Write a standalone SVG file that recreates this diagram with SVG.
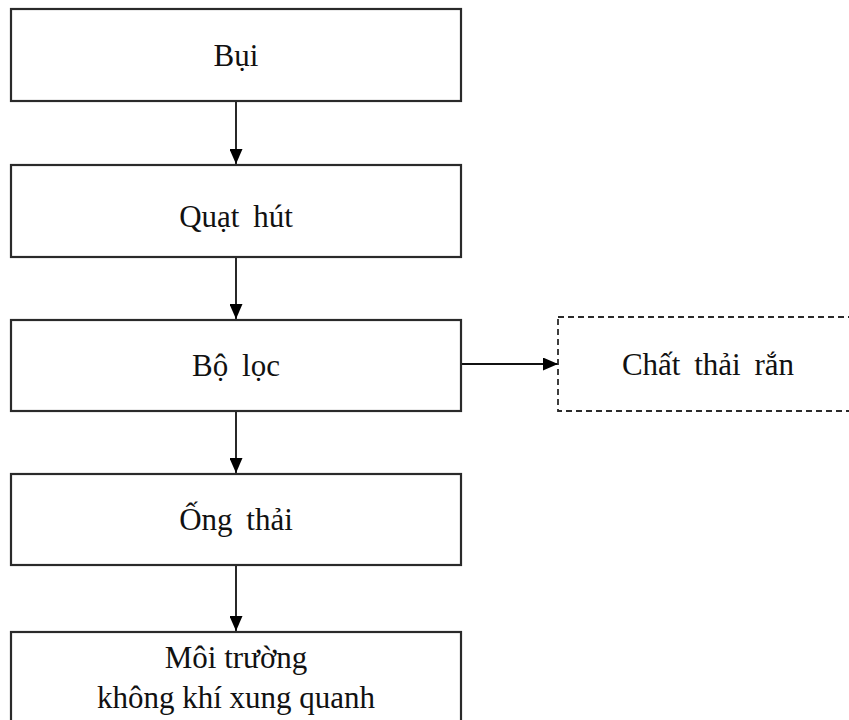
<svg xmlns="http://www.w3.org/2000/svg" width="849" height="720" viewBox="0 0 849 720">
  <defs>
    <marker id="arrow" viewBox="0 0 15 13" refX="15" refY="6.5" markerWidth="15" markerHeight="13" markerUnits="userSpaceOnUse" orient="auto">
      <path d="M0,0 L15,6.5 L0,13 Z" fill="#000"/>
    </marker>
    <style>
      .box { fill: #fff; stroke: #2a2a2a; stroke-width: 2.2; }
      .dashed { fill: #fff; stroke: #2a2a2a; stroke-width: 1.8; stroke-dasharray: 6 4; }
      .label { font-family: "Liberation Serif", "Times New Roman", serif; font-size: 31px; fill: #111; text-anchor: middle; word-spacing: 6px; }
      .tight { word-spacing: 0; }
      .link { stroke: #111; stroke-width: 1.8; fill: none; marker-end: url(#arrow); }
    </style>
  </defs>
  <rect width="849" height="720" fill="#fff"/>

  <g id="connectors">
    <line class="link" x1="236" y1="102" x2="236" y2="164"/>
    <line class="link" x1="236" y1="258" x2="236" y2="319"/>
    <line class="link" x1="236" y1="412" x2="236" y2="473"/>
    <line class="link" x1="236" y1="566" x2="236" y2="631"/>
    <line class="link" x1="462" y1="364" x2="558" y2="364"/>
  </g>

  <g id="bui">
    <rect class="box" x="11" y="9" width="450" height="92"/>
    <text class="label" x="236" y="66">Bụi</text>
  </g>

  <g id="quat-hut">
    <rect class="box" x="11" y="165" width="450" height="92"/>
    <text class="label" x="236" y="227">Quạt hút</text>
  </g>

  <g id="bo-loc">
    <rect class="box" x="11" y="320" width="450" height="91"/>
    <text class="label" x="236" y="376">Bộ lọc</text>
  </g>

  <g id="chat-thai-ran">
    <rect class="dashed" x="558" y="317" width="300" height="94"/>
    <text class="label" x="708" y="375">Chất thải rắn</text>
  </g>

  <g id="ong-thai">
    <rect class="box" x="11" y="474" width="450" height="91"/>
    <text class="label" x="236" y="530">Ống thải</text>
  </g>

  <g id="moi-truong">
    <rect class="box" x="11" y="632" width="450" height="100"/>
    <text class="label tight" x="236" y="668">Môi trường</text>
    <text class="label tight" x="236" y="708">không khí xung quanh</text>
  </g>
</svg>
